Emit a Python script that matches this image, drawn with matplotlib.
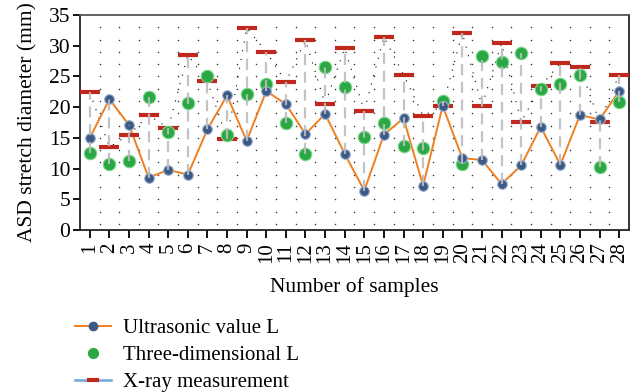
#!/usr/bin/env python3
"""ASD stretch diameter: ultrasonic vs three-dimensional vs X-ray, per sample."""

import numpy as np
import matplotlib
matplotlib.use("Agg")
import matplotlib.pyplot as plt
from matplotlib.lines import Line2D

# Data
samples = list(range(1, 29))
ultrasonic = [15.0, 21.3, 17.1, 8.5, 9.8, 9.0, 16.4, 21.9, 14.5, 22.6,
              20.5, 15.6, 18.9, 12.4, 6.4, 15.5, 18.2, 7.2, 20.2, 11.7,
              11.4, 7.5, 10.5, 16.8, 10.6, 18.7, 18.0, 22.6]
three_dim = [12.6, 10.7, 11.3, 21.6, 15.9, 20.7, 25.0, 15.5, 22.2, 23.8,
             17.5, 12.4, 26.5, 23.3, 15.2, 17.5, 13.7, 13.3, 21.0, 10.8,
             28.3, 27.3, 28.8, 23.0, 23.8, 25.3, 10.2, 20.9]
xray = [22.4, 13.5, 15.5, 18.7, 16.6, 28.5, 24.2, 14.8, 32.9, 29.0,
        24.1, 30.9, 20.5, 29.6, 19.4, 31.4, 25.3, 18.6, 20.2, 32.1,
        20.2, 30.4, 17.6, 23.4, 27.2, 26.5, 17.6, 25.3]

plt.rcParams['font.family'] = ['Liberation Serif', 'DejaVu Serif']

fig = plt.figure(figsize=(6.37, 3.92), dpi=100)
ax = fig.add_axes([0.1256, 0.4133, 0.8618, 0.5484])

x = np.array(samples)
u = np.array(ultrasonic)
t = np.array(three_dim)
r = np.array(xray)

# background dot grid
gx, gy = np.meshgrid(np.arange(1.5, 28.0, 1.0), np.arange(1, 34, 2))
ax.scatter(gx.ravel(), gy.ravel(), s=1.2, color='#333333', lw=0, zorder=0)

# sparse dotted line joining the X-ray values
ax.plot(x, r, color='black', lw=0.8, ls=(0, (1, 7)), zorder=1)

# high-low dashed lines
lo = np.minimum(np.minimum(u, t), r)
hi = np.maximum(np.maximum(u, t), r)

ax.plot(x, u, color='#f07f1f', lw=1.4, zorder=2)
ax.plot(x, r, ls='none', marker='_', ms=14, mew=3.0, color='#c0281e', zorder=3)
ax.plot(x, t, ls='none', marker='o', ms=9, mfc='#2aa843', mec='#7fd88f', mew=0.8, zorder=4)
ax.plot(x, u, ls='none', marker='o', ms=7, mfc='#3c5a86', mec='#9fb3d0', mew=0.8, zorder=5)
ax.vlines(x, lo, hi, colors='#bdbdbd', lw=1.6, linestyles=(0, (5, 3)), alpha=0.9, zorder=6)

ax.set_xlim(0.5, 28.5)
ax.set_ylim(0, 35)
ax.set_xticks(samples)
ax.set_xticklabels([str(s) for s in samples], rotation=90, fontsize=15)
ax.set_yticks(range(0, 36, 5))
ax.tick_params(axis='y', labelsize=15.5, length=5, width=1.3, direction='out', pad=2)
ax.tick_params(axis='x', length=6, width=1.3, direction='out', pad=3)
for side in ['left', 'bottom', 'right']:
    ax.spines[side].set_linewidth(1.3)
    ax.spines[side].set_color('#222222')
ax.spines['top'].set_linewidth(1.3)
ax.spines['top'].set_color('#555555')

ax.set_xlabel('Number of samples', fontsize=15.5, labelpad=10)
ax.set_ylabel('ASD stretch diameter (mm)', fontsize=15.5, labelpad=8)

legend_elements = [
    Line2D([0], [0], color='#f07f1f', lw=1.4, marker='o', ms=6,
           mfc='#3c5a86', mec='#3c5a86', label='Ultrasonic value L'),
    Line2D([0], [0], ls='none', marker='o', ms=7, mfc='#2aa843',
           mec='#2aa843', label='Three-dimensional L'),
    Line2D([0], [0], color='#6fa8dc', lw=1.8, marker='_', ms=8, mew=3,
           mec='#c0281e', label='X-ray measurement'),
]
fig.legend(handles=legend_elements, loc='upper left', bbox_to_anchor=(0.118, 0.187),
           frameon=False, fontsize=15, handlelength=1.7, handletextpad=0.6,
           labelspacing=0.36, borderaxespad=0, borderpad=0)

fig.savefig('out.png', dpi=100)
